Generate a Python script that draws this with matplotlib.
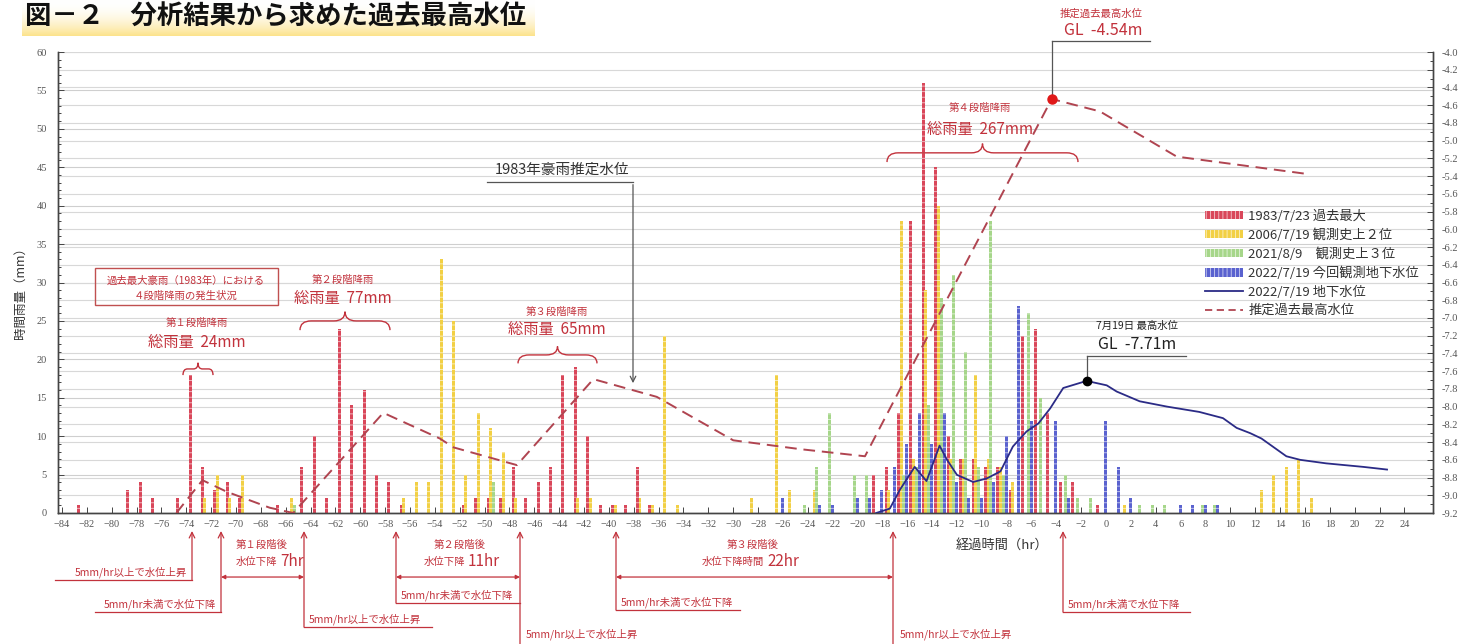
import numpy as np
import matplotlib.pyplot as plt
from matplotlib.path import Path
from matplotlib.patches import PathPatch, Patch, Rectangle
from matplotlib.lines import Line2D

plt.rcParams['font.family'] = ['Noto Sans CJK JP', 'DejaVu Sans']
plt.rcParams['hatch.linewidth'] = 0.6

# hourly rainfall (mm/hr), keyed by the hour the bar starts in
rain_1983_hr = [-83, -79, -78, -77, -75, -74, -73, -72, -71, -70, -67, -65, -64, -63, -62, -61,
                -60, -59, -58, -57, -52, -51, -50, -49, -48, -47, -46, -45, -44, -43, -42, -41,
                -40, -39, -38, -37, -19, -18, -17, -16, -15, -14, -13, -12, -11, -10, -9, -8,
                -7, -6, -5, -4, -3, -1]
rain_1983_mm = [1, 3, 4, 2, 2, 18, 6, 3, 4, 2, 1, 6, 10, 2, 24, 14,
                16, 5, 4, 1, 1, 2, 2, 2, 6, 2, 4, 6, 18, 19, 10, 1,
                1, 1, 6, 1, 5, 6, 13, 38, 56, 45, 10, 7, 7, 6, 6, 3,
                23, 24, 13, 4, 4, 1]

rain_2006_hr = [-73, -72, -71, -70, -66, -57, -56, -55, -54, -53, -52, -51, -50, -49, -48, -43,
                -42, -40, -38, -37, -36, -35, -29, -27, -26, -24, -18, -17, -16, -15, -14, -13,
                -12, -11, -10, -9, -8, 1, 12, 13, 14, 15, 16]
rain_2006_mm = [2, 5, 2, 5, 2, 2, 4, 4, 33, 25, 5, 13, 11, 8, 2, 2,
                2, 1, 2, 1, 23, 1, 2, 18, 3, 3, 3, 38, 7, 29, 40, 7,
                7, 18, 7, 6, 4, 1, 3, 5, 6, 7, 2]

rain_2021_hr = [-66, -50, -25, -24, -23, -21, -20, -17, -16, -15, -14, -13, -12, -11, -10, -9,
                -7, -6, -4, -3, -2, 2, 3, 4, 7, 8]
rain_2021_mm = [1, 4, 1, 6, 13, 5, 5, 5, 6, 14, 28, 31, 21, 6, 38, 5,
                26, 15, 5, 2, 2, 1, 1, 1, 1, 1]

rain_2022_hr = [-27, -24, -23, -21, -20, -19, -18, -17, -16, -15, -14, -13, -12, -11, -10, -9,
                -8, -7, -5, -4, -1, 0, 1, 5, 6, 7, 8]
rain_2022_mm = [2, 1, 1, 2, 2, 3, 6, 9, 13, 9, 13, 4, 2, 2, 4, 10,
                27, 12, 12, 2, 12, 6, 2, 1, 1, 1, 1]

# groundwater level 2022/7/19 (GL m)
gw_hr = [-18.5, -17.4, -16.6, -15.4, -14.45, -13.4, -12.8, -12.0, -10.7, -9.6, -8.5, -7.5,
         -6.4, -5.45, -4.5, -3.45, -1.57, 0.05, 0.85, 2.7, 4.9, 7.5, 9.4, 10.5, 11.6, 12.5,
         14.5, 15.6, 17.7, 20.7, 22.6]
gw_m = [-9.2, -9.15, -8.94, -8.68, -8.84, -8.44, -8.60, -8.77, -8.85, -8.81, -8.73, -8.45,
        -8.28, -8.19, -8.02, -7.79, -7.71, -7.76, -7.83, -7.94, -8.0, -8.06, -8.13, -8.24, -8.30, -8.36,
        -8.56, -8.60, -8.64, -8.68, -8.71]

# estimated 1983 water level (GL m)
est_hr = [-74.8, -72.7, -70.75, -67.3, -65.4, -58.15, -53.6, -52.5, -47.4, -41.25, -36.15,
          -30.0, -24.6, -19.4, -4.38, -0.5, 5.68, 11.58, 16.4]
est_m = [-9.2, -8.83, -8.96, -9.14, -9.2, -8.07, -8.36, -8.46, -8.66, -7.69, -7.89,
         -8.38, -8.48, -8.56, -4.53, -4.67, -5.18, -5.29, -5.38]

RED = '#c2323c'
GRAY = '#555555'

W, H = 1466, 644
fig = plt.figure(figsize=(W / 100, H / 100), dpi=100)


def hx(px):
    # figure pixel x -> hours
    return (px - 62) / 12.43 - 84


def vy(py):
    # figure pixel y -> rainfall axis value
    return (513 - py) / 7.68


ax = fig.add_axes([58 / W, 1 - 513 / H, (1433 - 58) / W, (513 - 52) / H])
ax.set_xlim(hx(58), hx(1433))
ax.set_ylim(0, 60)
ax2 = ax.twinx()
ax2.set_ylim(-9.2, -4.0)

# horizontal grid
for v in np.arange(0, 61, 5):
    ax.axhline(v, color='#cfcfcf', lw=0.8, zorder=0)
for m in np.arange(-9.2, -3.99, 0.2):
    ax.axhline((m + 9.2) / 5.2 * 60, color='#d8d8d8', lw=0.8, zorder=0)

series = [
    (rain_1983_hr, rain_1983_mm, '#d9475a', 0.30, '1983/7/23 過去最大'),
    (rain_2006_hr, rain_2006_mm, '#f2d045', 0.50, '2006/7/19 観測史上２位'),
    (rain_2021_hr, rain_2021_mm, '#a6d68a', 0.72, '2021/8/9　観測史上３位'),
    (rain_2022_hr, rain_2022_mm, '#5a62cf', 0.96, '2022/7/19 今回観測地下水位'),
]
handles = []
for hrs, mm, col, off, lab in series:
    ax.bar(np.array(hrs) + off, mm, width=0.24, color=col, edgecolor='#ffffffb0',
           linewidth=0, hatch='---', zorder=2)
    handles.append(Patch(facecolor=col, edgecolor='#ffffffb0', hatch='||||', linewidth=0, label=lab))

ax2.plot(gw_hr, gw_m, color='#2b2b86', lw=1.3, zorder=4)
ax2.plot(est_hr, est_m, color='#b04450', lw=1.4, dashes=(6, 3.5), zorder=4)
ax2.plot(-4.38, -4.53, 'o', color='#e01818', ms=6.5, zorder=5)
ax2.plot(-1.57, -7.71, 'o', color='black', ms=6, zorder=5)

handles.append(Line2D([], [], color='#2b2b86', lw=1.3, label='2022/7/19 地下水位'))
handles.append(Line2D([], [], color='#b04450', lw=1.3, dashes=(4, 2.5), label='推定過去最高水位'))
leg = fig.legend(handles=handles, loc='upper left', bbox_to_anchor=(1198 / W, 1 - 203 / H),
                 frameon=False, fontsize=9.5, handlelength=2.9, handleheight=0.6,
                 labelspacing=0.42, borderpad=0, handletextpad=0.4)
for t in leg.get_texts():
    t.set_color('#333333')

# axes styling
ax.set_xticks(np.arange(-84, 25, 2))
ax.set_xticks(np.arange(-84, 25, 1), minor=True)
ax.set_yticks(np.arange(0, 61, 5))
ax.set_yticks(np.arange(0, 61, 1), minor=True)
ax2.set_yticks(np.round(np.arange(-9.2, -3.99, 0.2), 1))
ax2.set_yticks(np.arange(-9.2, -3.99, 0.1), minor=True)
ax2.set_yticklabels([f'{t:.1f}' for t in np.round(np.arange(-9.2, -3.99, 0.2), 1)])
for a in (ax, ax2):
    a.tick_params(which='both', direction='in', colors='#444444', labelcolor='#555555',
                  labelsize=7.5, width=0.7)
    a.tick_params(which='major', length=4)
    a.tick_params(which='minor', length=2.5)
    for lab in a.get_xticklabels() + a.get_yticklabels():
        lab.set_family('Liberation Serif')
    for s in a.spines.values():
        s.set_color('#444444')
        s.set_linewidth(1.0)
    a.spines['top'].set_visible(False)
ax.tick_params(axis='x', which='minor', length=0)
ax.tick_params(axis='x', pad=5)
ax.tick_params(axis='y', pad=8)
ax2.tick_params(axis='y', pad=6)

fig.text(20 / W, 1 - 290 / H, '時間雨量（mm）', rotation=90, ha='center', va='center',
         fontsize=9, color='#333333')
fig.text(1002 / W, 1 - 545 / H, '経過時間（hr）', ha='center', va='center',
         fontsize=9.5, color='#333333')

# title with yellow highlight
hl = fig.add_axes([22 / W, 1 - 36 / H, 513 / W, 36 / H])
grad = np.linspace(0, 1, 50)[:, None] ** 2
cols = np.ones((50, 1, 3))
cols[:, 0, :] = (1 - grad) * np.array([1, 1, 1]) + grad * np.array([0.99, 0.89, 0.55])
hl.imshow(cols, aspect='auto', extent=[0, 1, 0, 1], origin='upper')
hl.axis('off')
fig.text(25 / W, 1 - 17 / H, '図－２　分析結果から求めた過去最高水位', ha='left', va='center',
         fontsize=19, fontweight='bold', color='#111111')


def brace(x0, x1, y0, h, color=RED):
    xm = (x0 + x1) / 2
    r = min((x1 - x0) * 0.15, 0.9)
    verts = [(x0, y0 - h), (x0, y0), (x0 + r, y0), (xm - r, y0), (xm, y0), (xm, y0 + h),
             (xm, y0 + h), (xm, y0), (xm + r, y0), (x1 - r, y0), (x1, y0), (x1, y0 - h)]
    codes = [Path.MOVETO, Path.CURVE3, Path.CURVE3, Path.LINETO, Path.CURVE3, Path.CURVE3,
             Path.MOVETO, Path.CURVE3, Path.CURVE3, Path.LINETO, Path.CURVE3, Path.CURVE3]
    ax.add_patch(PathPatch(Path(verts, codes), fill=False, edgecolor=color, lw=1.0, zorder=6))


def stage(xc, y_small, y_big, small, big):
    ax.text(xc, y_small, small, ha='center', va='center', fontsize=7.5, color=RED, zorder=6)
    ax.text(xc, y_big, big, ha='center', va='center', fontsize=11, color=RED, zorder=6)


# box
ax.add_patch(Rectangle((hx(95), vy(305)), hx(278) - hx(95), vy(268) - vy(305), fill=False,
                       edgecolor='#c05050', lw=1.0, zorder=6, clip_on=False))
ax.text(hx(186), vy(281), '過去最大豪雨（1983年）における', ha='center', va='center',
        fontsize=7.5, color=RED, zorder=6)
ax.text(hx(186), vy(296), '４段階降雨の発生状況', ha='center', va='center',
        fontsize=7.5, color=RED, zorder=6)

stage(hx(197), vy(323), vy(343), '第１段階降雨', '総雨量  24mm')
brace(hx(183), hx(213), vy(369), 0.8)
stage(hx(343), vy(280), vy(299), '第２段階降雨', '総雨量  77mm')
brace(hx(300), hx(390), vy(321), 1.2)
stage(hx(557), vy(312), vy(330), '第３段階降雨', '総雨量  65mm')
brace(hx(518), hx(597), vy(355), 1.1)
stage(hx(980), vy(108), vy(130), '第４段階降雨', '総雨量  267mm')
brace(hx(887), hx(1078), vy(153), 1.2)

# 1983 estimated level label
ax.text(hx(562), vy(170), '1983年豪雨推定水位', ha='center', va='center', fontsize=10.5,
        color='#333333', zorder=6)
ax.plot([hx(487), hx(633)], [vy(182), vy(182)], color=GRAY, lw=0.9, zorder=6)
ax.annotate('', xy=(hx(633), vy(386)), xytext=(hx(633), vy(182)),
            arrowprops=dict(arrowstyle='->', color=GRAY, lw=0.9), zorder=6)

# peak labels
ax.text(hx(1101), vy(14), '推定過去最高水位', ha='center', va='center', fontsize=7.5,
        color=RED, clip_on=False)
ax.text(hx(1103), vy(31), 'GL  -4.54m', ha='center', va='center', fontsize=11.5,
        color=RED, clip_on=False)
ax.plot([hx(1052), hx(1150)], [vy(41), vy(41)], color=GRAY, lw=0.9, clip_on=False)
ax.plot([hx(1052), hx(1052)], [vy(41), vy(98)], color=GRAY, lw=0.9, clip_on=False)

ax.text(hx(1137), vy(326), '7月19日 最高水位', ha='center', va='center', fontsize=7.5,
        color='#222222', zorder=6)
ax.text(hx(1137), vy(345), 'GL  -7.71m', ha='center', va='center', fontsize=11.5,
        color='#222222', zorder=6)
ax.plot([hx(1087), hx(1186)], [vy(356), vy(356)], color=GRAY, lw=0.9, zorder=6)
ax.plot([hx(1087), hx(1087)], [vy(356), vy(381)], color=GRAY, lw=0.9, zorder=6)


# bottom annotations
def up_arrow(px, py_base):
    ax.annotate('', xy=(hx(px), vy(531)), xytext=(hx(px), vy(py_base)),
                xycoords='data', annotation_clip=False,
                arrowprops=dict(arrowstyle='->', color=RED, lw=0.9, shrinkA=0, shrinkB=0))


def note(py_line, px0, px1, text, left=True):
    ax.plot([hx(px0), hx(px1)], [vy(py_line), vy(py_line)], color=RED, lw=0.9, clip_on=False)
    if left:
        ax.text(hx(px0 + 5), vy(py_line - 8), text, ha='left', va='center', fontsize=7.5,
                color=RED, clip_on=False)
    else:
        ax.text(hx(px1 - 5), vy(py_line - 8), text, ha='right', va='center', fontsize=7.5,
                color=RED, clip_on=False)


def span(px0, px1, py):
    ax.annotate('', xy=(hx(px0), vy(py)), xytext=(hx(px1), vy(py)), annotation_clip=False,
                arrowprops=dict(arrowstyle='<|-|>', color=RED, lw=0.9, mutation_scale=6,
                                shrinkA=0, shrinkB=0))


def span_label(px_center, px_split, title, small, big):
    ax.text(hx(px_center), vy(545), title, ha='center', va='center', fontsize=7.5, color=RED,
            clip_on=False)
    ax.text(hx(px_split), vy(562), small, ha='right', va='center', fontsize=7.5, color=RED,
            clip_on=False)
    ax.text(hx(px_split + 3), vy(561), big, ha='left', va='center', fontsize=11, color=RED,
            clip_on=False)


up_arrow(192, 580)
note(580, 55, 192, '5mm/hr以上で水位上昇', left=False)
up_arrow(221, 612)
note(612, 95, 221, '5mm/hr未満で水位下降', left=False)
up_arrow(304, 627)
note(627, 304, 432, '5mm/hr以上で水位上昇')
up_arrow(396, 603)
note(603, 396, 520, '5mm/hr未満で水位下降')
up_arrow(520, 644)
ax.text(hx(526), vy(634), '5mm/hr以上で水位上昇', ha='left', va='center', fontsize=7.5,
        color=RED, clip_on=False)
up_arrow(616, 610)
note(610, 616, 740, '5mm/hr未満で水位下降')
up_arrow(893, 644)
ax.text(hx(900), vy(634), '5mm/hr以上で水位上昇', ha='left', va='center', fontsize=7.5,
        color=RED, clip_on=False)
up_arrow(1063, 612)
note(612, 1063, 1190, '5mm/hr未満で水位下降')

span(221, 304, 577)
span(396, 520, 577)
span(616, 893, 577)
span_label(262, 277, '第１段階後', '水位下降', '7hr')
span_label(460, 465, '第２段階後', '水位下降', '11hr')
span_label(753, 764, '第３段階後', '水位下降時間', '22hr')

fig.savefig('out.png', dpi=100)
